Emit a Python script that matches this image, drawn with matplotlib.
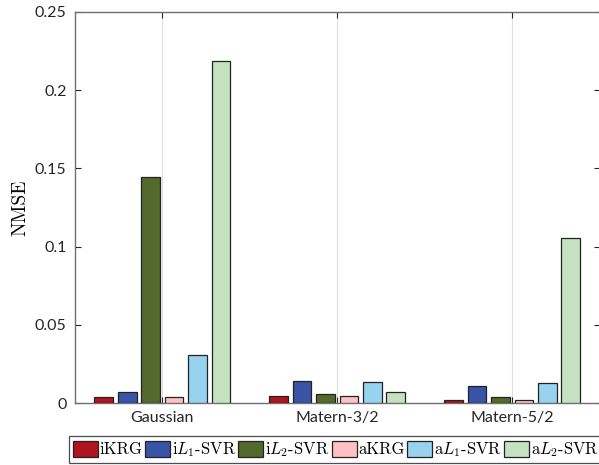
import numpy as np
import matplotlib
matplotlib.use("Agg")
import matplotlib.pyplot as plt

# values
kernels = ["Gaussian", "Matern-3/2", "Matern-5/2"]
methods = ["iKRG", r"i$L_1$-SVR", r"i$L_2$-SVR", "aKRG", r"a$L_1$-SVR", r"a$L_2$-SVR"]
ikrg = [0.0038, 0.0045, 0.0022]
il1_svr = [0.0070, 0.0140, 0.0110]
il2_svr = [0.1445, 0.0058, 0.0040]
akrg = [0.0038, 0.0045, 0.0020]
al1_svr = [0.0310, 0.0135, 0.0128]
al2_svr = [0.2185, 0.0070, 0.1055]
series = [ikrg, il1_svr, il2_svr, akrg, al1_svr, al2_svr]
colors = ["#b0141f", "#3953a6", "#546a2d", "#ffc0c4", "#97d2ee", "#c4e2c0"]

plt.rcParams["mathtext.fontset"] = "cm"
plt.rcParams["font.family"] = ["Lato", "DejaVu Sans"]

fig = plt.figure(figsize=(5.99, 4.65), dpi=100)
ax = fig.add_axes([0.125, 0.1333, 0.876, 0.841])

x = np.arange(1, len(kernels) + 1)
step = 0.134
width = 0.107
for i, vals in enumerate(series):
    ax.bar(x + (i - 2.5) * step, vals, width, color=colors[i],
           edgecolor="#222222", linewidth=0.9, label=methods[i], zorder=3)

ax.set_xlim(0.5, 3.5)
ax.set_ylim(0, 0.25)
ax.set_xticks(x)
ax.set_xticklabels(kernels)
ax.set_yticks([0, 0.05, 0.1, 0.15, 0.2, 0.25])
ax.set_yticklabels(["0", "0.05", "0.1", "0.15", "0.2", "0.25"])
ax.tick_params(labelsize=11.5, colors="#262626", direction="in", length=4,
               top=True, right=True, pad=6)
ax.grid(axis="x", color="#e0e0e0", linewidth=0.8, zorder=0)
for s in ax.spines.values():
    s.set_color("#707070")
    s.set_linewidth(1.0)

ax.set_ylabel("NMSE", family="cmr10", fontsize=14, labelpad=4)

leg = ax.legend(loc="upper left", bbox_to_anchor=(-0.012, -0.085), ncol=6,
                prop={"family": ["cmr10"], "size": 12}, frameon=True,
                fancybox=False, edgecolor="#222222", handlelength=1.5,
                handleheight=1.15, handletextpad=0.12, columnspacing=0.12,
                borderpad=0.25, borderaxespad=0)
leg.get_frame().set_linewidth(0.9)

fig.savefig("out.png", dpi=100)
